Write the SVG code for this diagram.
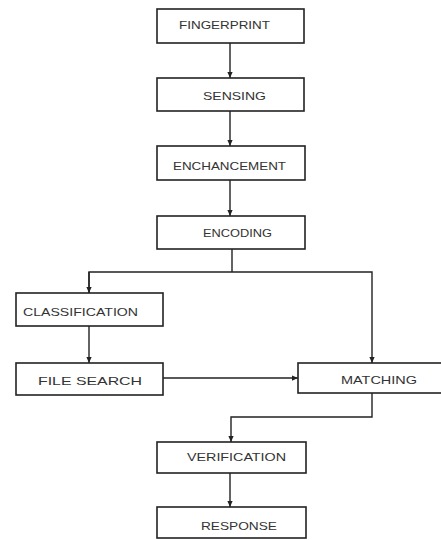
<svg xmlns="http://www.w3.org/2000/svg" width="441" height="540" viewBox="0 0 441 540">
<style>
.box{fill:#fff;stroke:#222;stroke-width:1.6}
.lbl{font-family:"Liberation Sans",Arial,sans-serif;font-size:10.5px;fill:#333;text-anchor:start}
.ln{fill:none;stroke:#222;stroke-width:1.4}
</style>
<defs>
<marker id="ah" viewBox="0 0 8 8" refX="8" refY="4" markerWidth="6" markerHeight="6" orient="auto" markerUnits="userSpaceOnUse">
<path d="M0,0.5 L8,4 L0,7.5 Z" fill="#222"/>
</marker>
</defs>
<rect width="441" height="540" fill="#fff"/>
<g id="connectors">
<line class="ln" x1="230" y1="43" x2="230" y2="78" marker-end="url(#ah)"/>
<line class="ln" x1="230" y1="111" x2="230" y2="146" marker-end="url(#ah)"/>
<line class="ln" x1="230" y1="180" x2="230" y2="216" marker-end="url(#ah)"/>
<polyline class="ln" points="232,249 232,272"/>
<polyline class="ln" points="89,293 89,272 372,272 372,363" marker-end="url(#ah)"/>
<line class="ln" x1="89" y1="272" x2="89" y2="293" marker-end="url(#ah)"/>
<line class="ln" x1="89" y1="326" x2="89" y2="363" marker-end="url(#ah)"/>
<line class="ln" x1="163" y1="378" x2="298" y2="378" marker-end="url(#ah)"/>
<polyline class="ln" points="372,393 372,417 231,417 231,442" marker-end="url(#ah)"/>
<line class="ln" x1="230" y1="473" x2="230" y2="507" marker-end="url(#ah)"/>
</g>
<g id="fingerprint"><rect class="box" x="157" y="9" width="147" height="34"/><text class="lbl" x="179" y="29" textLength="91" lengthAdjust="spacingAndGlyphs">FINGERPRINT</text></g>
<g id="sensing"><rect class="box" x="157" y="78" width="147" height="33"/><text class="lbl" x="203" y="100" textLength="63" lengthAdjust="spacingAndGlyphs">SENSING</text></g>
<g id="enchancement"><rect class="box" x="157" y="146" width="148" height="34"/><text class="lbl" x="173" y="170" textLength="113" lengthAdjust="spacingAndGlyphs">ENCHANCEMENT</text></g>
<g id="encoding"><rect class="box" x="157" y="216" width="148" height="33"/><text class="lbl" x="203" y="237" textLength="69" lengthAdjust="spacingAndGlyphs">ENCODING</text></g>
<g id="classification"><rect class="box" x="16" y="293" width="147" height="33"/><text class="lbl" x="23" y="316" textLength="115" lengthAdjust="spacingAndGlyphs">CLASSIFICATION</text></g>
<g id="filesearch"><rect class="box" x="16" y="363" width="147" height="32"/><text class="lbl" x="38" y="385" textLength="104" lengthAdjust="spacingAndGlyphs">FILE  SEARCH</text></g>
<g id="matching"><rect class="box" x="298" y="363" width="146" height="30"/><text class="lbl" x="341" y="384" textLength="76" lengthAdjust="spacingAndGlyphs">MATCHING</text></g>
<g id="verification"><rect class="box" x="157" y="442" width="149" height="31"/><text class="lbl" x="187" y="461" textLength="99" lengthAdjust="spacingAndGlyphs">VERIFICATION</text></g>
<g id="response"><rect class="box" x="157" y="507" width="149" height="31"/><text class="lbl" x="201" y="530" textLength="76" lengthAdjust="spacingAndGlyphs">RESPONSE</text></g>
</svg>
